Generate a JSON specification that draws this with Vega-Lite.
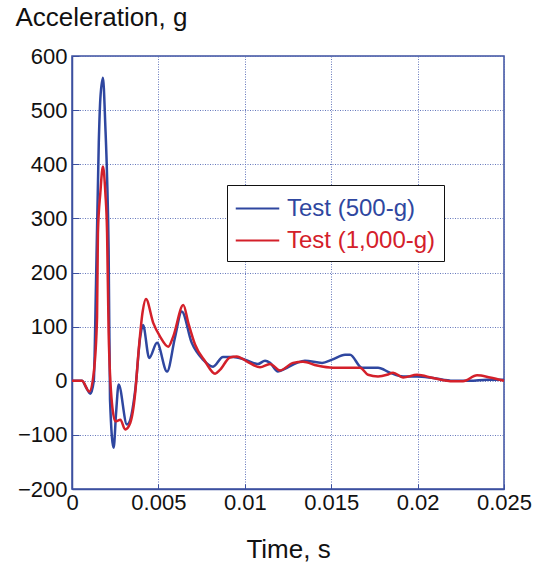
{
  "$schema": "https://vega.github.io/schema/vega-lite/v6.json",
  "width": 432,
  "height": 433,
  "autosize": {"type": "none"},
  "padding": {"left": 72, "top": 56, "right": 31, "bottom": 78},
  "background": "white",
  "config": {
    "font": "Liberation Sans",
    "view": {"stroke": "#3c50a0", "strokeWidth": 1.5}
  },
  "datasets": {
    "blue": [
      {"t": 0, "a": 0}, {"t": 0.00058, "a": 0}, {"t": 0.00081, "a": -12}, {"t": 0.00106, "a": -24},
      {"t": 0.00126, "a": 0}, {"t": 0.00139, "a": 180}, {"t": 0.00155, "a": 440}, {"t": 0.00164, "a": 521},
      {"t": 0.00179, "a": 560}, {"t": 0.00193, "a": 470}, {"t": 0.00203, "a": 377}, {"t": 0.00212, "a": 240},
      {"t": 0.0022, "a": -35}, {"t": 0.00241, "a": -124}, {"t": 0.00255, "a": -60}, {"t": 0.0027, "a": -7},
      {"t": 0.00318, "a": -81}, {"t": 0.00366, "a": -17}, {"t": 0.00395, "a": 81}, {"t": 0.00411, "a": 103},
      {"t": 0.00447, "a": 42}, {"t": 0.00492, "a": 70}, {"t": 0.0055, "a": 17}, {"t": 0.00596, "a": 80},
      {"t": 0.00635, "a": 128}, {"t": 0.00693, "a": 70}, {"t": 0.00758, "a": 39}, {"t": 0.00816, "a": 26},
      {"t": 0.00874, "a": 44}, {"t": 0.00932, "a": 44}, {"t": 0.01001, "a": 39}, {"t": 0.01076, "a": 31},
      {"t": 0.01117, "a": 37}, {"t": 0.01146, "a": 33}, {"t": 0.01192, "a": 17}, {"t": 0.01244, "a": 24},
      {"t": 0.01302, "a": 33}, {"t": 0.01348, "a": 37}, {"t": 0.01447, "a": 33}, {"t": 0.01505, "a": 39},
      {"t": 0.0158, "a": 48}, {"t": 0.01609, "a": 48}, {"t": 0.01678, "a": 24}, {"t": 0.01771, "a": 24},
      {"t": 0.0184, "a": 15}, {"t": 0.01916, "a": 8}, {"t": 0.01997, "a": 8}, {"t": 0.0209, "a": 5},
      {"t": 0.02205, "a": 0}, {"t": 0.02303, "a": 0}, {"t": 0.02402, "a": 2}, {"t": 0.025, "a": 2}
    ],
    "red": [
      {"t": 0, "a": 0}, {"t": 0.00058, "a": 0}, {"t": 0.001, "a": -20}, {"t": 0.00126, "a": 15},
      {"t": 0.00145, "a": 118}, {"t": 0.0015, "a": 273}, {"t": 0.00164, "a": 347}, {"t": 0.00179, "a": 396},
      {"t": 0.00193, "a": 347}, {"t": 0.00203, "a": 274}, {"t": 0.00212, "a": 89}, {"t": 0.00231, "a": -41},
      {"t": 0.00251, "a": -75}, {"t": 0.0028, "a": -72}, {"t": 0.00308, "a": -90}, {"t": 0.00337, "a": -78},
      {"t": 0.00366, "a": -22}, {"t": 0.00386, "a": 57}, {"t": 0.00409, "a": 128}, {"t": 0.00428, "a": 151},
      {"t": 0.0047, "a": 107}, {"t": 0.00509, "a": 82}, {"t": 0.00557, "a": 63}, {"t": 0.00586, "a": 82},
      {"t": 0.00644, "a": 140}, {"t": 0.00673, "a": 107}, {"t": 0.00712, "a": 67}, {"t": 0.0077, "a": 36},
      {"t": 0.00828, "a": 13}, {"t": 0.00856, "a": 20}, {"t": 0.00914, "a": 43}, {"t": 0.00953, "a": 45},
      {"t": 0.01011, "a": 36}, {"t": 0.01088, "a": 25}, {"t": 0.01146, "a": 31}, {"t": 0.01204, "a": 19},
      {"t": 0.01279, "a": 33}, {"t": 0.01337, "a": 35}, {"t": 0.01418, "a": 28}, {"t": 0.0151, "a": 24},
      {"t": 0.01609, "a": 24}, {"t": 0.01667, "a": 24}, {"t": 0.01713, "a": 11}, {"t": 0.01771, "a": 8},
      {"t": 0.01823, "a": 11}, {"t": 0.01858, "a": 15}, {"t": 0.01916, "a": 6}, {"t": 0.01997, "a": 11},
      {"t": 0.0209, "a": 5}, {"t": 0.02205, "a": -1}, {"t": 0.02263, "a": -1}, {"t": 0.02344, "a": 10},
      {"t": 0.02419, "a": 6}, {"t": 0.025, "a": 0}
    ]
  },
  "encoding": {
    "x": {
      "field": "t", "type": "quantitative",
      "scale": {"domain": [0, 0.025], "nice": false},
      "axis": {
        "values": [0, 0.005, 0.01, 0.015, 0.02, 0.025],
        "format": "~g",
        "title": "Time, s",
        "titleFont": "Liberation Sans", "titleFontSize": 26, "titleFontWeight": "normal", "titleColor": "#111",
        "titleY": 68, "titleBaseline": "alphabetic",
        "labelFont": "Liberation Sans", "labelFontSize": 22, "labelColor": "#111", "labelPadding": 8,
        "labelFlush": false, "labelOverlap": false,
        "domainColor": "#3c50a0", "domainWidth": 1.5,
        "tickColor": "#3c50a0", "tickSize": -5, "tickWidth": 1,
        "grid": true, "gridColor": "#5569b5", "gridDash": [1, 1.5], "gridWidth": 1, "gridOpacity": 0.9
      }
    },
    "y": {
      "field": "a", "type": "quantitative",
      "scale": {"domain": [-200, 600], "nice": false},
      "axis": {
        "values": [-200, -100, 0, 100, 200, 300, 400, 500, 600],
        "title": "Acceleration, g",
        "titleAngle": 0, "titleAlign": "left", "titleBaseline": "alphabetic",
        "titleX": -57, "titleY": -31,
        "titleFont": "Liberation Sans", "titleFontSize": 26, "titleFontWeight": "normal", "titleColor": "#111",
        "labelFont": "Liberation Sans", "labelFontSize": 22, "labelColor": "#111", "labelPadding": 12,
        "labelFlush": false, "labelOverlap": false,
        "domainColor": "#3c50a0", "domainWidth": 1.5,
        "tickColor": "#3c50a0", "tickSize": -7, "tickWidth": 1,
        "grid": true, "gridColor": "#5569b5", "gridDash": [1, 1.5], "gridWidth": 1, "gridOpacity": 0.9
      }
    }
  },
  "layer": [
    {
      "data": {"name": "blue"},
      "transform": [{"calculate": "'Test (500-g)'", "as": "series"}],
      "mark": {"type": "line", "strokeWidth": 2.5, "strokeJoin": "round", "interpolate": "monotone"},
      "encoding": {
        "order": {"field": "t", "type": "quantitative"},
        "color": {
          "field": "series", "type": "nominal",
          "scale": {"domain": ["Test (500-g)", "Test (1,000-g)"], "range": ["#2f47a0", "#d4202a"]},
          "legend": {
            "title": null,
            "orient": "none", "legendX": 155, "legendY": 129,
            "direction": "vertical",
            "symbolType": "M-1.5,0H1.5", "symbolSize": 841, "symbolStrokeWidth": 2,
            "symbolOffset": 7,
            "labelFont": "Liberation Sans", "labelFontSize": 24, "labelOffset": 14,
            "labelLimit": 300,
            "rowPadding": 4,
            "padding": 8,
            "strokeColor": "#111", "fillColor": "white",
            "encode": {"labels": {"update": {"fill": {"scale": "color", "field": "value"}}}}
          }
        }
      }
    },
    {
      "data": {"name": "red"},
      "transform": [{"calculate": "'Test (1,000-g)'", "as": "series"}],
      "mark": {"type": "line", "strokeWidth": 2.5, "strokeJoin": "round", "interpolate": "monotone"},
      "encoding": {
        "order": {"field": "t", "type": "quantitative"},
        "color": {"field": "series", "type": "nominal"}
      }
    }
  ]
}
